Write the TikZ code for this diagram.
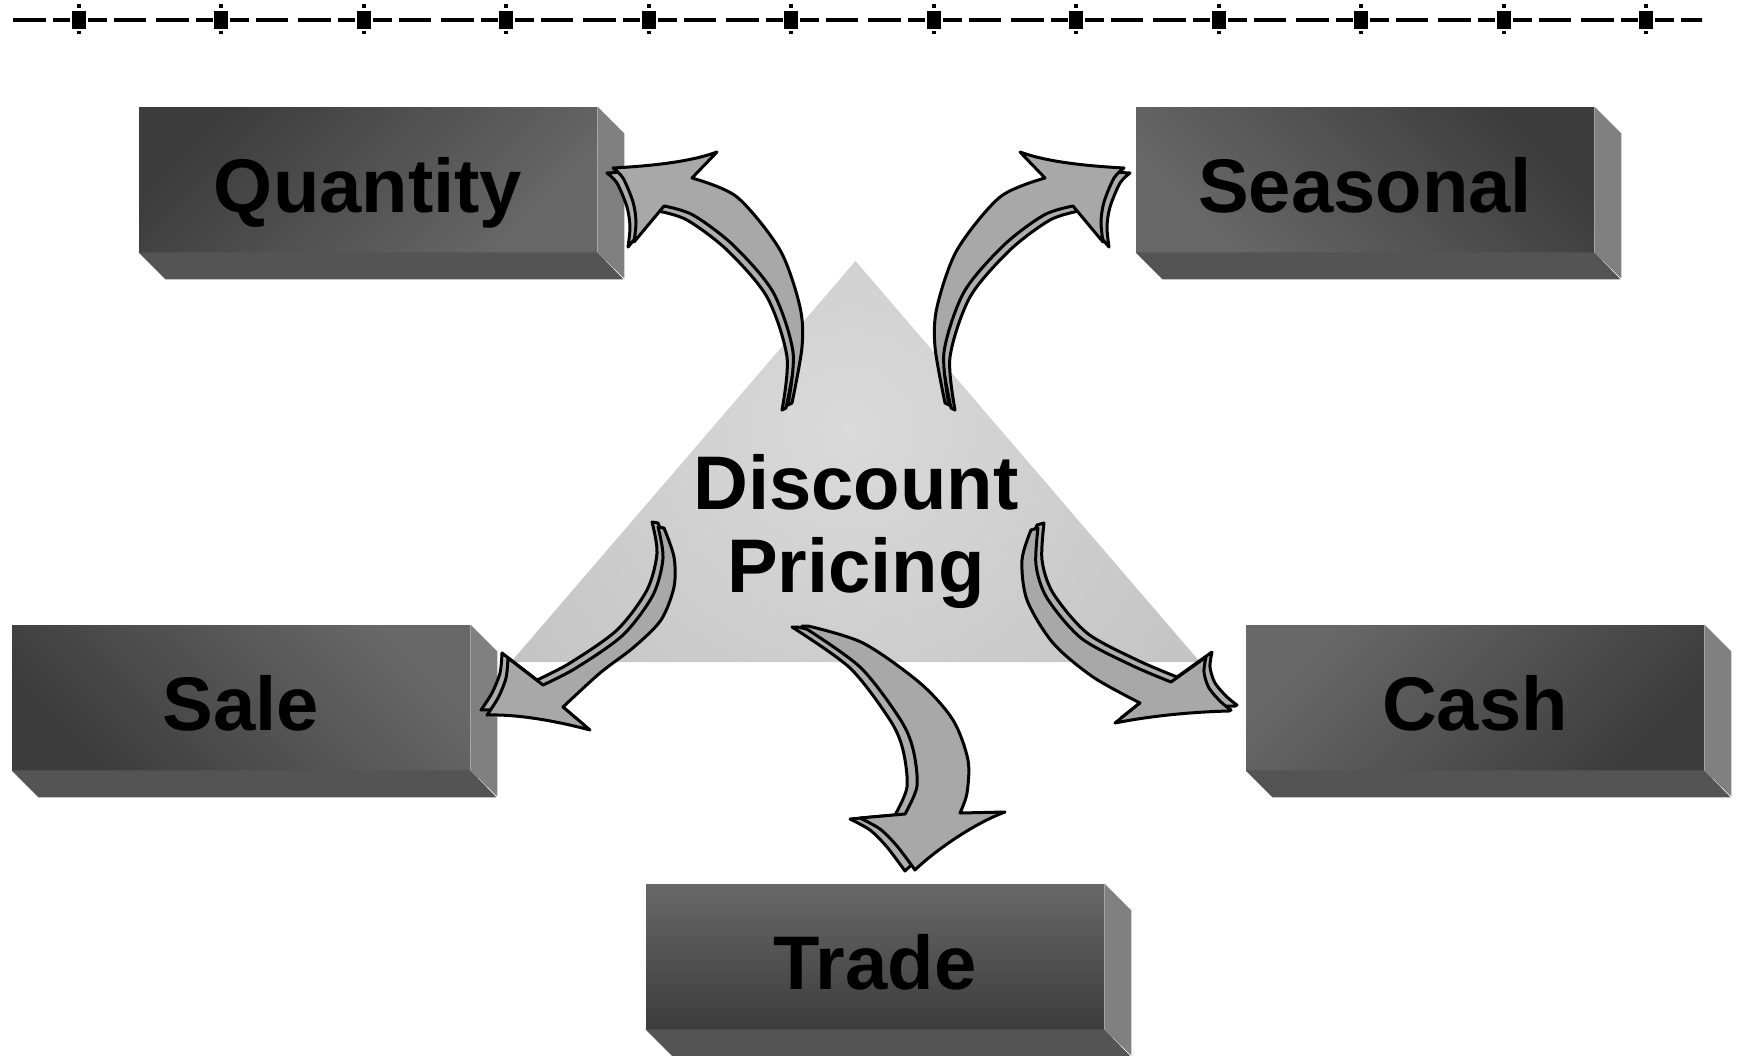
\documentclass[tikz,border=0pt]{standalone}
\usepackage{fontspec}
\setmainfont{Liberation Sans}

\definecolor{sidegray}{RGB}{128,128,128}
\definecolor{bottomgray}{RGB}{84,84,84}
\definecolor{arrowgray}{RGB}{168,168,168}
\definecolor{stripgray}{RGB}{174,174,174}
\definecolor{facedark}{RGB}{60,60,60}
\definecolor{facelight}{RGB}{104,104,104}
\definecolor{trilight}{RGB}{218,218,218}
\definecolor{trishade}{RGB}{190,190,190}

\tikzset{
  boxfront/.style={rectangle, minimum width=229pt, minimum height=72.5pt,
    inner sep=0pt, text height=33pt, text depth=0pt,
    font=\fontsize{38}{41.5}\selectfont\bfseries},
  boxside/.style={fill=sidegray},
  boxbottom/.style={fill=bottomgray},
  arrowface/.style={fill=arrowgray, draw=black, line width=1.5pt, line join=round},
  arrowstrip/.style={fill=stripgray, draw=black, line width=1.5pt, line join=round},
  titlefont/.style={font=\fontsize{38}{41.5}\selectfont\bfseries},
}

% a bevelled block: front face (shaded node), right side and bottom faces
\newcommand\blockbox[6]{%
  \node[boxfront, top color=#4, bottom color=#5, shading angle=#6] (#1) at #2 {#3};
  \fill[boxside] (#1.north east) -- ++(27,27) -- ++(0,145) -- (#1.south east) -- cycle;
  \fill[boxbottom] (#1.south west) -- ++(27,27) -- ++(458,0) -- (#1.south east) -- cycle;
}

% front faces of the curved block arrows
\newcommand\upleftarrow{(613,168) .. controls (650,166) and (690,162) .. (717,152)
  -- plot[smooth] coordinates {(692,178) (737,197) (780,250) (800,307) (802,347) (792,403)}
  -- plot[smooth] coordinates {(788,405) (793,352) (773,292) (733,245) (693,215) (664,206)}
  -- plot[smooth] coordinates {(634,242) (636,222) (633,202) (623,178) (613,168)} -- cycle}

\newcommand\downleftarrow{(658,527)
  -- plot[smooth] coordinates {(664,528) (674,557) (674,587) (661,620) (634,647) (600,673) (563,707)}
  -- (590,730) .. controls (560,722) and (520,714) .. (487,715)
  -- plot[smooth] coordinates {(487,715) (498,698) (506,678) (508,658)}
  -- plot[smooth] coordinates {(543,685) (576,668) (623,635) (653,595) (663,558) (658,527)} -- cycle}

\newcommand\downrightarrow{(1031,530)
  -- plot[smooth] coordinates {(1031,530) (1022,560) (1027,600) (1053,643) (1093,677) (1140,703)}
  -- (1115,723) .. controls (1150,716) and (1190,712) .. (1229,711)
  -- plot[smooth] coordinates {(1231,710) (1221,702) (1209,688) (1204,672) (1206,657)}
  -- plot[smooth] coordinates {(1171,682) (1131,665) (1081,638) (1047,598) (1036,565) (1038,528)} -- cycle}

\newcommand\downarrowshape{(802,626)
  -- plot[smooth] coordinates {(808,626) (863,643) (920,683) (953,720) (968,760) (967,793) (960,813)}
  -- (1005,812) .. controls (970,825) and (930,855) .. (915,870)
  -- plot[smooth] coordinates {(915,870) (897,846) (880,829) (860,818)}
  -- plot[smooth] coordinates {(905,814) (917,786) (913,749) (900,719) (860,667) (802,626)} -- cycle}

\begin{document}
\begin{tikzpicture}[x=0.5pt, y=-0.5pt]
\useasboundingbox (0,0) rectangle (1737,1056);

% dash-and-square rule along the top
\begin{scope}
  \clip (12,0) rectangle (1702,40);
  \foreach \k in {-1,...,11}{
    \pgfmathsetmacro\c{78.5+142.5*\k}
    \fill (\c+9,17.5) rectangle (\c+28,21.5);
    \fill (\c+35,17.5) rectangle (\c+67,21.5);
    \fill (\c+77,17.5) rectangle (\c+110,21.5);
    \fill (\c+117,17.5) rectangle (\c+134,21.5);
  }
\end{scope}
\foreach \k in {0,...,11}{
  \pgfmathsetmacro\c{78.5+142.5*\k}
  \fill (\c-7,10.5) rectangle (\c+7,28.5);
  \fill (\c-2,4) rectangle (\c+2,8);
  \fill (\c-2,31) rectangle (\c+2,34);
}

% central triangle
\begin{scope}
  \clip (855.5,261) -- (1200,662) -- (511,662) -- cycle;
  \shade[inner color=trilight, outer color=trishade] (850,430) circle (520);
\end{scope}

% blocks
\blockbox{quantity}{(368,179.5)}{Quantity}{facedark}{facelight}{45}
\blockbox{seasonal}{(1365,179.5)}{Seasonal}{facedark}{facelight}{-45}
\blockbox{sale}{(241,697.5)}{Sale}{facelight}{facedark}{-45}
\blockbox{cash}{(1475,697.5)}{Cash}{facelight}{facedark}{45}
\blockbox{trade}{(875,956.5)}{Trade}{facelight}{facedark}{0}

% curved arrows: the extruded edge first, then the front face
\draw[arrowstrip, shift={(-6,5)}] \upleftarrow;
\draw[arrowface] \upleftarrow;
\begin{scope}[shift={(1737,0)}, xscale=-1]
  \draw[arrowstrip, shift={(-6,5)}] \upleftarrow;
  \draw[arrowface] \upleftarrow;
\end{scope}
\draw[arrowstrip, shift={(-6,-5)}] \downleftarrow;
\draw[arrowface] \downleftarrow;
\draw[arrowstrip, shift={(6,-5)}] \downrightarrow;
\draw[arrowface] \downrightarrow;
\draw[arrowstrip, shift={(-10,1)}] \downarrowshape;
\draw[arrowface] \downarrowshape;

% centre label (base anchor sits on the last line)
\node[titlefont, align=center, inner sep=0pt, anchor=base] (pricing) at (856,592.7) {Discount\\Pricing};
\end{tikzpicture}
\end{document}
